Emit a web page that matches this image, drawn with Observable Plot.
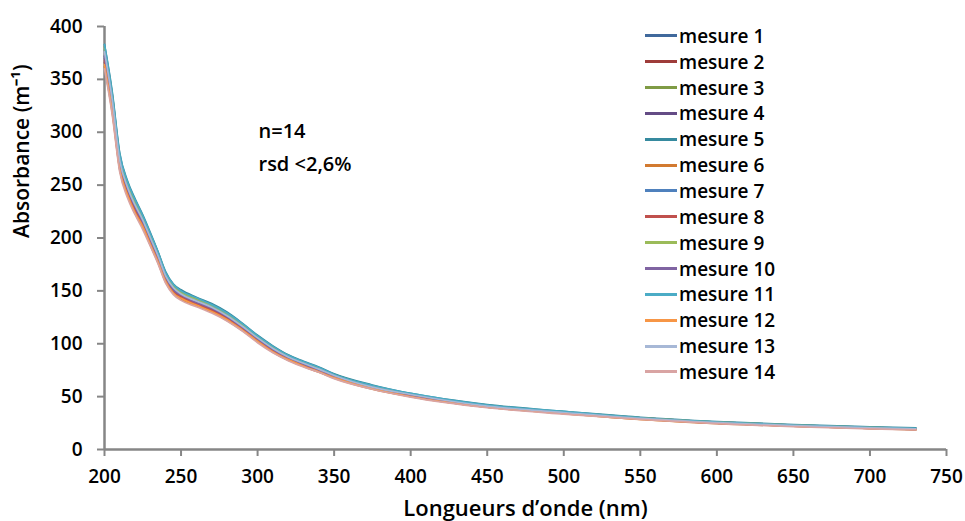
<!DOCTYPE html>
<html>
<head>
<meta charset="utf-8">
<script src="https://cdn.jsdelivr.net/npm/d3@7"></script>
<script src="https://cdn.jsdelivr.net/npm/@observablehq/plot@0.6"></script>
<style>
  html, body { margin: 0; padding: 0; background: #fff; }
  #wrap { position: relative; width: 965px; height: 521px; overflow: hidden; font-family: "Open Sans", sans-serif; }
  #legend { position: absolute; left: 645px; top: 23px; }
  .row { height: 25.85px; display: flex; align-items: center; font-size: 19px; font-weight: 600; color: #000; white-space: nowrap; }
  .sw { width: 32px; height: 3px; margin-right: 2px; }
</style>
</head>
<body>
<div id="wrap"><div id="legend"></div></div>
<script>
const wavelengths = [200,205,210,215,220,225,230,235,240,245,250,260,270,280,290,300,310,320,330,340,350,375,400,450,500,550,600,650,700,730];

const mesure1  = [372,330,271,248,229,217,198,183,162,153,146,141,133,126,117,104,96,87,81,75,70,59,51.5,41.5,35,30,25.5,22.5,20.5,19.5];
const mesure2  = [366,322,267,242,225,212,195,178,160,149,143.5,137,131,123.5,114,103,93,85,79.5,74,68,58,50.5,40,34.5,29,25,22,20,19];
const mesure3  = [381,336,277,252,235,220,203,186,166,155,149,143,137,128.5,118,107,97,89,82.5,77,71,60,52.5,42,35.5,30,26,23,21,20];
const mesure4  = [370,326,269,244,228,214,197,180,161,150.5,145,138.5,132.5,125,115,104,94,86,80,75,69,58.5,51,40.5,34.5,29,25,22.5,20.5,19];
const mesure5  = [383,339,280,254,237,222,205,187,168,156.5,151,144,138,130,119.5,108,98,89.5,83.5,78,71.5,61,53,42.5,36,30.5,26.5,23.5,21.5,20.5];
const mesure6  = [362,319,264,240,223,210,193,176.5,158,147.5,142,136,130,122,112.5,102,92,84.5,78.5,73,67.5,57,50,40,34,28.5,24.5,22,20,18.5];
const mesure7  = [378,332,275,249,232,218,201,184,164.5,153.5,148,141.5,135,127,117,106,96,88,82,76,70,59.5,52,41.5,35.5,30,26,23,21,19.5];
const mesure8  = [368,324,268,243,227,213,196,179,160.5,150,144.5,138,132,124,114.5,103.5,93.5,86,80,74.5,68.5,58,51,40.5,34.5,29,25,22,20,19];
const mesure9  = [379,334,276,251,233,219,202,185,165.5,154,148.5,142,136,128,118,106.5,96.5,88.5,82,76.5,70.5,60,52,41.5,35.5,30,26,23,21,19.5];
const mesure10 = [372,327,271,246,229,215,198,181,162,151,146,139,133.5,125.5,115.5,104.5,94.5,86.5,80.5,75,69,59,51,41,35,29.5,25.5,22.5,20.5,19.5];
const mesure11 = [383,337,279,253,236,221,204,186.5,167,156,150,143.5,137,129,119,107.5,97.5,89,83,77.5,71,60.5,53,42,36,30,26,23,21,20];
const mesure12 = [364,321,265,241,224,211,194,177.5,159,148,143,136.5,130.5,123,113,102.5,92.5,85,79,73.5,68,57.5,50,40,34,28.5,25,22,20,19];
const mesure13 = [376,331,273,248,231,217,200,183,164,153,147,140.5,134.5,126.5,116.5,105.5,95.5,87.5,81.5,76,70,59,52,41,35,29.5,25.5,22.5,20.5,19.5];
const mesure14 = [360,317,262,238,222,208,192,175.5,157,146.5,141,135,129,121.5,112,101,91.5,84,78,73,67,57,49.5,39.5,33.5,28.5,24.5,21.5,19.5,18.5];

const seriesNames = ["mesure 1","mesure 2","mesure 3","mesure 4","mesure 5","mesure 6","mesure 7","mesure 8","mesure 9","mesure 10","mesure 11","mesure 12","mesure 13","mesure 14"];
const seriesColors = ["#40699c","#9e3c3a","#7f9b45","#644c85","#368a9f","#d27a30","#4f81bd","#c0504d","#9bbb59","#8064a2","#4bacc6","#f79646","#a7b8d6","#d9a4a3"];
const xTicks = [200,250,300,350,400,450,500,550,600,650,700,750];
const yTicks = [0,50,100,150,200,250,300,350,400];
const xTitle = "Longueurs d’onde (nm)";
const yTitle = "Absorbance (m⁻¹)";
const annotation = "n=14\nrsd <2,6%";

const allSeries = [mesure1,mesure2,mesure3,mesure4,mesure5,mesure6,mesure7,mesure8,mesure9,mesure10,mesure11,mesure12,mesure13,mesure14];
const rows = allSeries.flatMap((vals, i) => vals.map((v, j) => ({nm: wavelengths[j], abs: v, s: seriesNames[i]})));

const axisGrey = "#868686";
const chart = Plot.plot({
  width: 965,
  height: 521,
  marginLeft: 104,
  marginRight: 19,
  marginTop: 26,
  marginBottom: 72,
  style: {fontFamily: "'Open Sans', sans-serif", fontSize: "19px", color: "#000", background: "transparent"},
  x: {domain: [200, 750]},
  y: {domain: [0, 400]},
  color: {domain: seriesNames, range: seriesColors},
  marks: [
    Plot.axisX(xTicks, {tickSize: 7, tickPadding: 13, stroke: axisGrey, strokeWidth: 2, fill: "#000", fontSize: 19, fontWeight: 600, label: null}),
    Plot.axisY(yTicks, {tickSize: 7, tickPadding: 15, stroke: axisGrey, strokeWidth: 2, fill: "#000", fontSize: 19, fontWeight: 600, label: null}),
    Plot.ruleY([0], {stroke: axisGrey, strokeWidth: 2.5}),
    Plot.ruleX([200], {stroke: axisGrey, strokeWidth: 2.5}),
    Plot.line(rows, {x: "nm", y: "abs", z: "s", stroke: "s", strokeWidth: 1.7, curve: "monotone-x"}),
    Plot.text([annotation], {frameAnchor: "top-left", dx: 154, dy: 117, textAnchor: "start", lineAnchor: "middle", lineHeight: 1.65, fontSize: 20, fontWeight: 600, fill: "#000"}),
    Plot.text([yTitle], {frameAnchor: "left", rotate: -90, dx: -82, fontSize: 21, fontWeight: 600, fill: "#000"}),
    Plot.text([xTitle], {frameAnchor: "bottom", dy: 66, fontSize: 22, fontWeight: 600, fill: "#000"})
  ]
});
const wrap = document.getElementById("wrap");
wrap.insertBefore(chart, wrap.firstChild);

const legend = document.getElementById("legend");
seriesNames.forEach((name, i) => {
  const row = document.createElement("div");
  row.className = "row";
  const sw = document.createElement("span");
  sw.className = "sw";
  sw.style.background = seriesColors[i];
  const label = document.createElement("span");
  label.textContent = name;
  row.appendChild(sw);
  row.appendChild(label);
  legend.appendChild(row);
});
</script>
</body>
</html>
